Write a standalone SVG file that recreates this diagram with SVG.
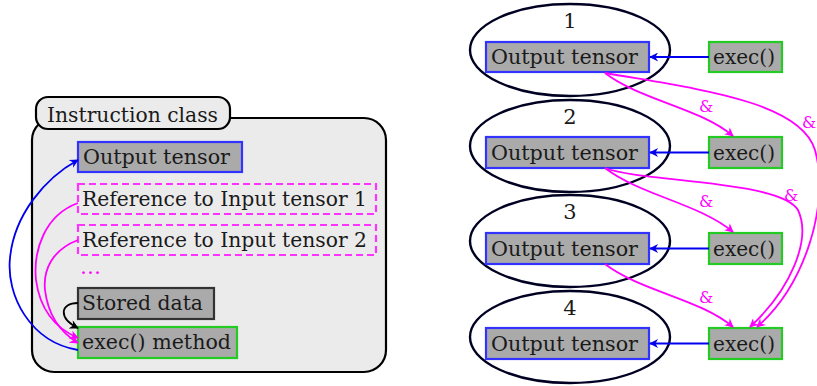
<svg xmlns="http://www.w3.org/2000/svg" width="817" height="386" viewBox="0 0 817 386">
<style>
.t{font-family:"DejaVu Serif","Liberation Serif",serif;font-size:21px;fill:#1a1a1a}
.amp{font-family:"DejaVu Serif","Liberation Serif",serif;font-size:16px;fill:#ff00ff}
.num{font-family:"DejaVu Serif","Liberation Serif",serif;font-size:21px;fill:#1a1a1a;text-anchor:middle}
.out{fill:#aaaaaa;stroke:#3333ff;stroke-width:2.2}
.ex{fill:#aaaaaa;stroke:#22cc22;stroke-width:2.2}
.ref{fill:none;stroke:#ff33ff;stroke-width:2.2;stroke-dasharray:7,4}
.sd{fill:#aaaaaa;stroke:#333333;stroke-width:2.2}
.ell{fill:none;stroke:#000022;stroke-width:2.4}
.cb{fill:none;stroke:#0000ee;stroke-width:1.8}
.cm{fill:none;stroke:#ff00ff;stroke-width:1.8}
.ck{fill:none;stroke:#000000;stroke-width:1.8}
</style>
<defs>
<marker id="ab" viewBox="0 0 10 10" refX="9" refY="5" markerWidth="10" markerHeight="9" orient="auto" markerUnits="userSpaceOnUse"><path d="M0,0 L10,5 L0,10 L3,5 z" fill="#0000ee"/></marker>
<marker id="am" viewBox="0 0 10 10" refX="9" refY="5" markerWidth="10" markerHeight="9" orient="auto" markerUnits="userSpaceOnUse"><path d="M0,0 L10,5 L0,10 L3,5 z" fill="#ff00ff"/></marker>
<marker id="ak" viewBox="0 0 10 10" refX="9" refY="5" markerWidth="10" markerHeight="9" orient="auto" markerUnits="userSpaceOnUse"><path d="M0,0 L10,5 L0,10 L3,5 z" fill="#000000"/></marker>
</defs>

<g id="instruction-class">
<rect x="32" y="118" width="354" height="254" rx="22" fill="#ebebeb" stroke="#000" stroke-width="2.2"/>
<rect x="36" y="97" width="194" height="32" rx="12" fill="#ebebeb" stroke="#000" stroke-width="2.2"/>
<text class="t" x="47" y="122" textLength="171" lengthAdjust="spacingAndGlyphs">Instruction class</text>
</g>
<g id="left-output">
<rect class="out" x="78" y="142" width="164" height="30"/>
<text class="t" x="83" y="164" textLength="147" lengthAdjust="spacingAndGlyphs">Output tensor</text>
</g>
<g id="ref1">
<rect class="ref" x="78" y="184" width="298" height="30"/>
<text class="t" x="82" y="206" textLength="285" lengthAdjust="spacingAndGlyphs">Reference to Input tensor 1</text>
</g>
<g id="ref2">
<rect class="ref" x="78" y="225" width="298" height="30"/>
<text class="t" x="82" y="247" textLength="285" lengthAdjust="spacingAndGlyphs">Reference to Input tensor 2</text>
</g>
<g id="dots">
<text class="t" x="80" y="274" style="fill:#ff00ff" textLength="21" lengthAdjust="spacingAndGlyphs">…</text>
</g>
<g id="stored-data">
<rect class="sd" x="78" y="288" width="136" height="31"/>
<text class="t" x="82" y="310" textLength="121" lengthAdjust="spacingAndGlyphs">Stored data</text>
</g>
<g id="exec-method">
<rect class="ex" x="78" y="327" width="159" height="31"/>
<text class="t" x="82" y="349" textLength="149" lengthAdjust="spacingAndGlyphs">exec() method</text>
</g>

<g id="e1">
<ellipse class="ell" cx="570" cy="50" rx="100" ry="46"/>
<text class="num" x="570" y="28">1</text>
<rect class="out" x="486" y="42" width="163" height="30"/>
<text class="t" x="491" y="64" textLength="147" lengthAdjust="spacingAndGlyphs">Output tensor</text>
</g>
<g id="e2">
<ellipse class="ell" cx="570" cy="146" rx="100" ry="46"/>
<text class="num" x="570" y="124">2</text>
<rect class="out" x="486" y="137" width="163" height="31"/>
<text class="t" x="491" y="160" textLength="147" lengthAdjust="spacingAndGlyphs">Output tensor</text>
</g>
<g id="e3">
<ellipse class="ell" cx="570" cy="241" rx="100" ry="46"/>
<text class="num" x="570" y="219">3</text>
<rect class="out" x="486" y="233" width="163" height="31"/>
<text class="t" x="491" y="256" textLength="147" lengthAdjust="spacingAndGlyphs">Output tensor</text>
</g>
<g id="e4">
<ellipse class="ell" cx="570" cy="337" rx="100" ry="46"/>
<text class="num" x="570" y="315">4</text>
<rect class="out" x="486" y="328" width="163" height="31"/>
<text class="t" x="491" y="351" textLength="147" lengthAdjust="spacingAndGlyphs">Output tensor</text>
</g>
<g id="x1"><rect class="ex" x="709" y="42" width="73" height="30"/><text class="t" x="713" y="64" textLength="62" lengthAdjust="spacingAndGlyphs">exec()</text></g>
<g id="x2"><rect class="ex" x="709" y="137" width="73" height="31"/><text class="t" x="713" y="160" textLength="62" lengthAdjust="spacingAndGlyphs">exec()</text></g>
<g id="x3"><rect class="ex" x="709" y="233" width="73" height="31"/><text class="t" x="713" y="256" textLength="62" lengthAdjust="spacingAndGlyphs">exec()</text></g>
<g id="x4"><rect class="ex" x="709" y="328" width="73" height="31"/><text class="t" x="713" y="351" textLength="62" lengthAdjust="spacingAndGlyphs">exec()</text></g>

<g id="connectors">
<path class="cb" d="M78,350 C30,342 6,295 10,258 C14,215 45,178 78,160" marker-end="url(#ab)"/>
<path class="cm" d="M78,203 C45,215 33,250 36,280 C40,310 55,328 78,338" marker-end="url(#am)"/>
<path class="cm" d="M78,240 C52,250 43,270 45,290 C48,315 60,332 78,343" marker-end="url(#am)"/>
<path class="ck" d="M78,303 C60,303 58,318 78,328" marker-end="url(#ak)"/>

<path class="cb" d="M709,57 L650,57" marker-end="url(#ab)"/>
<path class="cb" d="M709,152.5 L650,152.5" marker-end="url(#ab)"/>
<path class="cb" d="M709,248.5 L650,248.5" marker-end="url(#ab)"/>
<path class="cb" d="M709,343.5 L650,343.5" marker-end="url(#ab)"/>

<path class="cm" d="M605,73 C640,100 700,108 733,136" marker-end="url(#am)"/>
<path class="cm" d="M605,168 C640,195 700,204 733,232" marker-end="url(#am)"/>
<path class="cm" d="M605,264 C640,291 700,299 733,327" marker-end="url(#am)"/>
<path class="cm" d="M605,73 C690,88 800,100 815,150 C830,205 805,285 757,327" marker-end="url(#am)"/>
<path class="cm" d="M605,168 C640,182 780,180 798,210 C812,240 790,290 750,327" marker-end="url(#am)"/>
<text class="amp" x="699" y="112">&amp;</text>
<text class="amp" x="802" y="128">&amp;</text>
<text class="amp" x="699" y="207">&amp;</text>
<text class="amp" x="784" y="201">&amp;</text>
<text class="amp" x="699" y="303">&amp;</text>
</g>
</svg>
